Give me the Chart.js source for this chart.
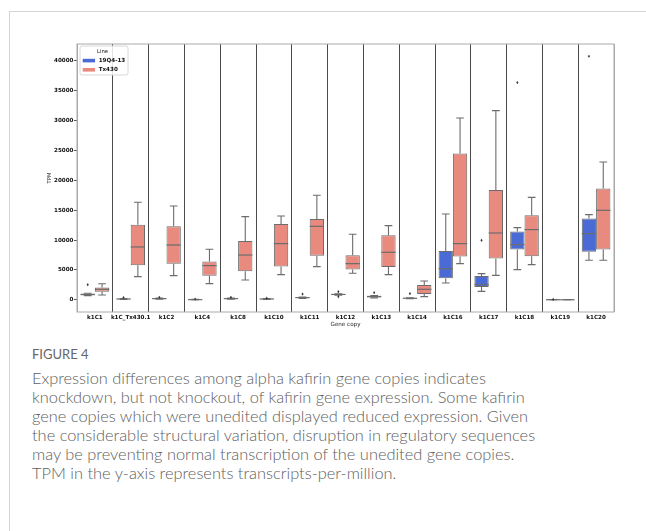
<!DOCTYPE html>
<html>
<head>
<meta charset="utf-8">
<script src="https://cdn.jsdelivr.net/npm/chart.js@4.4.1/dist/chart.umd.min.js"></script>
<style>
  body { margin: 0; background: #fff; width: 646px; height: 531px; overflow: hidden; position: relative; }
  .frame { position: absolute; left: 9px; top: 11px; width: 700px; height: 600px; border-left: 1px solid #d4d4d4; border-top: 1px solid #d4d4d4; }
  #wrap { position: absolute; left: 0; top: 0; width: 646px; height: 340px; }
  .fig { position: absolute; left: 32px; top: 345px; font-family: Lato, 'Open Sans', sans-serif; font-size: 13px; line-height: 18px; color: #666; }
  .cap { position: absolute; left: 32px; top: 368px; font-family: Lato, 'Open Sans', sans-serif; font-weight: 300; font-size: 16.4px; line-height: 19px; color: #606060; white-space: nowrap; }
</style>
</head>
<body>
<div class="frame"></div>
<div id="wrap"><canvas id="chart"></canvas></div>
<div class="fig">FIGURE 4</div>
<div class="cap">Expression differences among alpha kafirin gene copies indicates<br>knockdown, but not knockout, of kafirin gene expression. Some kafirin<br>gene copies which were unedited displayed reduced expression. Given<br>the considerable structural variation, disruption in regulatory sequences<br>may be preventing normal transcription of the unedited gene copies.<br>TPM in the y-axis represents transcripts-per-million.</div>
<script>
const geneCopies = ['k1C1', 'k1C_Tx430.1', 'k1C2', 'k1C4', 'k1C8', 'k1C10', 'k1C11', 'k1C12',
  'k1C13', 'k1C14', 'k1C16', 'k1C17', 'k1C18', 'k1C19', 'k1C20'];
const lineNames = ['19Q4-13', 'Tx430'];
const lineColors = ['#4a6bd5', '#e98a7f'];
const yTicks = [0, 5000, 10000, 15000, 20000, 25000, 30000, 35000, 40000];

// 19Q4-13 (TPM)
const q4Min = [700, 60, 100, 0, 100, 60, 250, 780, 330, 180, 2810, 1420, 5060, 0, 6620];
const q4Q1 = [750, 100, 150, 10, 150, 100, 300, 830, 380, 220, 3600, 2150, 8410, 0, 8070];
const q4Med = [880, 140, 200, 30, 200, 140, 370, 900, 550, 260, 5220, 2540, 9250, 10, 11090];
const q4Q3 = [1050, 190, 250, 50, 250, 180, 430, 960, 700, 300, 8180, 3990, 11420, 20, 13600];
const q4Max = [1100, 230, 290, 70, 290, 220, 480, 1000, 720, 330, 14370, 4390, 12090, 30, 14260];
const q4Out = [[2540], [370], [420], [110], [420], [280], [960], [1370, 530], [1200], [1040], [], [9970], [36380], [60], [40790]];

// Tx430 (TPM)
const txMin = [800, 3880, 4050, 2710, 3320, 4220, 5560, 4440, 4220, 530, 6060, 4100, 5900, 0, 6620];
const txQ1 = [1370, 5780, 6060, 4050, 4770, 5560, 7400, 5060, 5500, 970, 7240, 6900, 7290, 0, 8410];
const txMed = [1760, 8850, 9180, 5730, 7500, 9410, 12310, 6060, 7960, 1760, 9410, 11190, 11760, 10, 14990];
const txQ3 = [2060, 12590, 12310, 6400, 9850, 12700, 13530, 7450, 10800, 2480, 24490, 18390, 14150, 20, 18650];
const txMax = [2680, 16330, 15710, 8460, 13930, 14040, 17500, 10970, 12430, 3150, 30450, 31690, 17150, 40, 23080];
const txOut = [[], [], [], [], [], [], [], [], [], [], [], [], [], [], []];

const edgeColor = '#6c6c6c';
const font = 'DejaVu Sans';

function makeSet(i, q1, q3, min, med, max, out) {
  return {
    label: lineNames[i],
    data: q1.map((v, k) => [v, q3[k]]),
    backgroundColor: lineColors[i],
    borderColor: edgeColor,
    borderWidth: 1,
    borderSkipped: false,
    stats: { min, med, max, out },
    categoryPercentage: 0.8,
    barPercentage: 1.0
  };
}

// whiskers, caps, medians and fliers on top of the floating bars
const boxPlugin = {
  id: 'boxWhiskers',
  afterDatasetsDraw(chart) {
    const ctx = chart.ctx;
    const y = chart.scales.y;
    chart.data.datasets.forEach((ds, di) => {
      const meta = chart.getDatasetMeta(di);
      const s = ds.stats;
      meta.data.forEach((bar, i) => {
        const x = bar.x, hw = bar.width / 2, cw = bar.width * 0.27;
        const yMin = y.getPixelForValue(s.min[i]);
        const yMax = y.getPixelForValue(s.max[i]);
        const yMed = y.getPixelForValue(s.med[i]);
        const yLo = y.getPixelForValue(ds.data[i][0]);
        const yHi = y.getPixelForValue(ds.data[i][1]);
        ctx.save();
        ctx.strokeStyle = edgeColor;
        ctx.lineWidth = 1.1;
        ctx.beginPath();
        ctx.moveTo(x, yHi); ctx.lineTo(x, yMax);
        ctx.moveTo(x, yLo); ctx.lineTo(x, yMin);
        ctx.moveTo(x - cw, yMax); ctx.lineTo(x + cw, yMax);
        ctx.moveTo(x - cw, yMin); ctx.lineTo(x + cw, yMin);
        ctx.stroke();
        ctx.lineWidth = 1.2;
        ctx.beginPath();
        ctx.moveTo(x - hw, yMed); ctx.lineTo(x + hw, yMed);
        ctx.stroke();
        ctx.fillStyle = '#3a3a3a';
        s.out[i].forEach(v => {
          const py = y.getPixelForValue(v);
          ctx.beginPath();
          ctx.moveTo(x, py - 1.6); ctx.lineTo(x + 1.1, py);
          ctx.lineTo(x, py + 1.6); ctx.lineTo(x - 1.1, py);
          ctx.closePath();
          ctx.fill();
        });
        ctx.restore();
      });
    });
  }
};

// axes frame + legend inside the plot, like matplotlib
const framePlugin = {
  id: 'frameLegend',
  afterDraw(chart) {
    const ctx = chart.ctx;
    const a = chart.chartArea;
    ctx.save();
    ctx.strokeStyle = '#a9a9a9';
    ctx.lineWidth = 1;
    ctx.strokeRect(a.left, a.top, a.right - a.left, a.bottom - a.top);

    const lx = a.left + 3, ly = a.top + 2;
    ctx.fillStyle = 'rgba(255,255,255,0.85)';
    ctx.strokeStyle = '#d8d8d8';
    ctx.beginPath();
    ctx.roundRect(lx, ly, 48, 29, 2);
    ctx.fill();
    ctx.stroke();

    ctx.fillStyle = '#111';
    ctx.textAlign = 'center';
    ctx.textBaseline = 'middle';
    ctx.font = '5.3px "' + font + '"';
    ctx.fillText('Line', lx + 22.5, ly + 5.8);
    chart.data.datasets.forEach((ds, i) => {
      const cy = ly + 14.6 + i * 9.2;
      ctx.fillStyle = ds.backgroundColor;
      ctx.fillRect(lx + 2.7, cy - 1.8, 12.3, 3.6);
      ctx.fillStyle = '#111';
      ctx.textAlign = 'left';
      ctx.font = 'bold 5.6px "' + font + '"';
      ctx.fillText(ds.label, lx + 18.7, cy);
    });
    ctx.restore();
  }
};

new Chart(document.getElementById('chart'), {
  type: 'bar',
  data: {
    labels: geneCopies,
    datasets: [
      makeSet(0, q4Q1, q4Q3, q4Min, q4Med, q4Max, q4Out),
      makeSet(1, txQ1, txQ3, txMin, txMed, txMax, txOut)
    ]
  },
  options: {
    responsive: true,
    maintainAspectRatio: false,
    animation: false,
    layout: { padding: { left: 44, top: 44, right: 32, bottom: 0 } },
    plugins: {
      legend: { display: false },
      tooltip: { enabled: false }
    },
    scales: {
      x: {
        grid: {
          offset: true,
          drawTicks: false,
          lineWidth: 1,
          color: c => (c.type !== 'tick' || c.index === 0) ? '#a9a9a9' : '#4a4a4a'
        },
        border: { display: false },
        ticks: {
          autoSkip: false, maxRotation: 0, padding: 2, color: '#111',
          font: { family: font, size: 5.6, weight: 'bold' }
        },
        title: {
          display: true, text: 'Gene copy', color: '#222',
          font: { family: font, size: 5.6 }, padding: { top: 0, bottom: 11.6 }
        },
        afterFit(scale) { scale.height = 28; }
      },
      y: {
        min: -2040,
        max: 42840,
        grid: { drawOnChartArea: false, drawTicks: true, tickLength: 3, tickColor: '#555' },
        border: { display: false },
        afterBuildTicks(scale) { scale.ticks = yTicks.map(v => ({ value: v })); },
        ticks: {
          padding: 0.5, color: '#111',
          font: { family: font, size: 5.6, weight: 'bold' },
          callback: v => String(v)
        },
        title: {
          display: true, text: 'TPM', color: '#222',
          font: { family: font, size: 5.3 }, padding: { top: 2, bottom: 0 }
        },
        afterFit(scale) { scale.width = 33; }
      }
    }
  },
  plugins: [boxPlugin, framePlugin]
});
</script>
</body>
</html>
